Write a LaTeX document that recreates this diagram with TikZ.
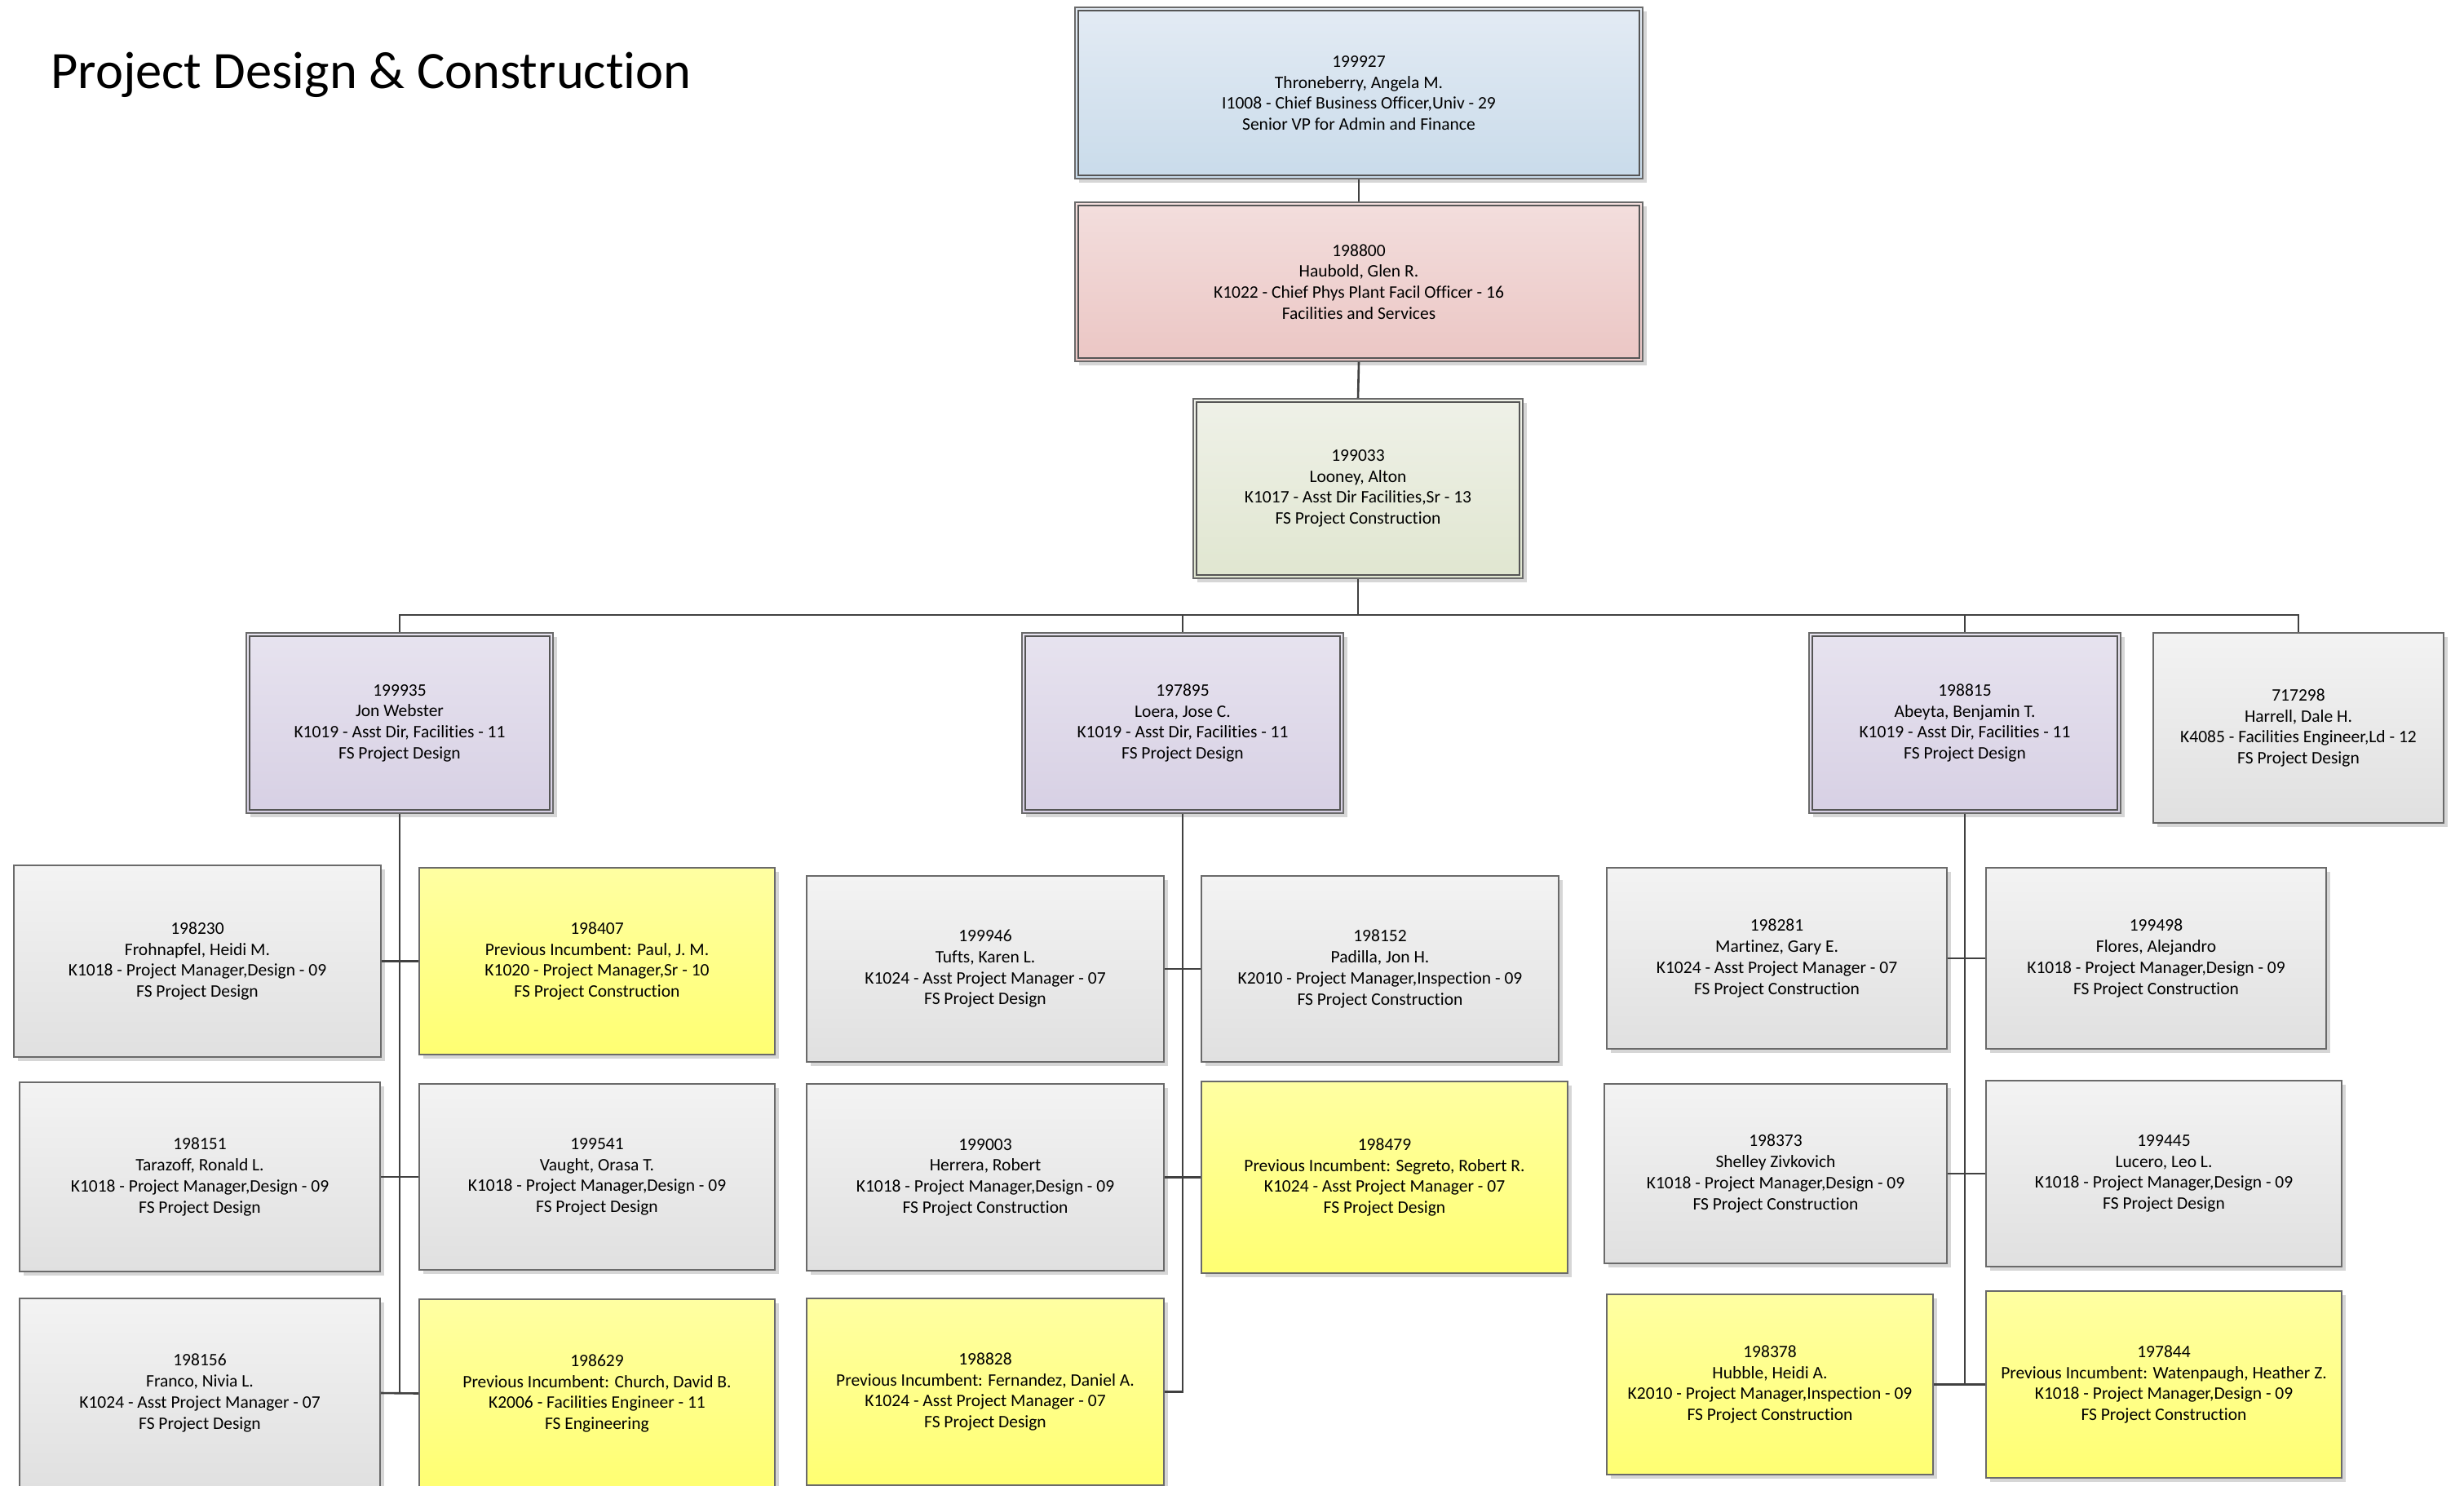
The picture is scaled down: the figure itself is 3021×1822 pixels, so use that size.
\documentclass[tikz,border=0pt]{standalone}
\usepackage{fontspec}
\setmainfont{Carlito}[Ligatures={NoCommon}]
\usetikzlibrary{shadows,calc}
\definecolor{blueT}{HTML}{E3EBF4}
\definecolor{blueB}{HTML}{C9DBEA}
\definecolor{pinkT}{HTML}{F3DEDD}
\definecolor{pinkB}{HTML}{EBC6C4}
\definecolor{greenT}{HTML}{EFF1E8}
\definecolor{greenB}{HTML}{E0E6D0}
\definecolor{lavT}{HTML}{E7E3EF}
\definecolor{lavB}{HTML}{D7D0E4}
\definecolor{grayT}{HTML}{F3F3F3}
\definecolor{grayB}{HTML}{E0E0E0}
\definecolor{yelT}{HTML}{FFFFA2}
\definecolor{yelB}{HTML}{FFFF72}
\definecolor{bordercol}{HTML}{6A6A6A}
\definecolor{linecol}{HTML}{404040}
\tikzset{
  pb/.style={draw=bordercol, line width=1.6pt, align=center, inner sep=0pt,
    font=\fontsize{21.5}{25.7}\selectfont,
    drop shadow={shadow xshift=5pt, shadow yshift=-5pt, fill=black!16, opacity=1}},
  bluebox/.style={pb, top color=blueT, bottom color=blueB},
  pinkbox/.style={pb, top color=pinkT, bottom color=pinkB},
  greenbox/.style={pb, top color=greenT, bottom color=greenB},
  lavbox/.style={pb, top color=lavT, bottom color=lavB},
  graybox/.style={pb, top color=grayT, bottom color=grayB},
  yelbox/.style={pb, top color=yelT, bottom color=yelB},
  link/.style={draw=linecol, line width=2.6pt},
  innerline/.style={draw=bordercol!80!black, line width=1.6pt},
}
\newcommand\pbox[7]{%
  \node[#2, minimum width={(#5-#3)*1pt}, minimum height={(#6-#4)*1pt}] (#1) at ({(#3+#5)/2},{(#4+#6)/2+2}) {#7};}
\newcommand\inbox[1]{%
  \draw[innerline] ([xshift=5pt,yshift=-5pt]#1.north west) rectangle ([xshift=-5pt,yshift=5pt]#1.south east);}
\begin{document}
\begin{tikzpicture}[x=1pt,y=-1pt]
\path[use as bounding box, fill=white] (0,0) rectangle (3021,1822);
\clip (0,0) rectangle (3021,1822);

\node[anchor=base west, font=\fontsize{64.5}{70}\selectfont, inner sep=0pt] (title) at (62,109) {Project Design \& Construction};

% top chain
\pbox{b1}{bluebox}{1318}{7}{2014}{217}{199927\\Throneberry, Angela M.\\I1008 - Chief Business Officer,Univ - 29\\Senior VP for Admin and Finance}
\inbox{b1}
\pbox{b2}{pinkbox}{1318}{246}{2014}{441}{198800\\Haubold, Glen R.\\K1022 - Chief Phys Plant Facil Officer - 16\\Facilities and Services}
\inbox{b2}
\pbox{b3}{greenbox}{1463}{487}{1867}{707}{199033\\Looney, Alton\\K1017 - Asst Dir Facilities,Sr - 13\\FS Project Construction}
\inbox{b3}

% second level
\pbox{p4}{lavbox}{302}{774}{678}{995}{199935\\Jon Webster\\K1019 - Asst Dir, Facilities - 11\\FS Project Design}
\inbox{p4}
\pbox{p5}{lavbox}{1253}{774}{1647}{995}{197895\\Loera, Jose C.\\K1019 - Asst Dir, Facilities - 11\\FS Project Design}
\inbox{p5}
\pbox{p6}{lavbox}{2218}{774}{2600}{995}{198815\\Abeyta, Benjamin T.\\K1019 - Asst Dir, Facilities - 11\\FS Project Design}
\inbox{p6}
\pbox{p7}{graybox}{2640}{774}{2996}{1007}{717298\\Harrell, Dale H.\\K4085 - Facilities Engineer,Ld - 12\\FS Project Design}

% Jon Webster's team
\pbox{c230}{graybox}{17}{1059}{467}{1294}{198230\\Frohnapfel, Heidi M.\\K1018 - Project Manager,Design - 09\\FS Project Design}
\pbox{c407}{yelbox}{514}{1062}{950}{1291}{198407\\Previous Incumbent: Paul, J. M.\\K1020 - Project Manager,Sr - 10\\FS Project Construction}
\pbox{c151}{graybox}{24}{1325}{466}{1557}{198151\\Tarazoff, Ronald L.\\K1018 - Project Manager,Design - 09\\FS Project Design}
\pbox{c541}{graybox}{514}{1327}{950}{1555}{199541\\Vaught, Orasa T.\\K1018 - Project Manager,Design - 09\\FS Project Design}
\pbox{c156}{graybox}{24}{1590}{466}{1822}{198156\\Franco, Nivia L.\\K1024 - Asst Project Manager - 07\\FS Project Design}
\pbox{c629}{yelbox}{514}{1591}{950}{1822}{198629\\Previous Incumbent: Church, David B.\\K2006 - Facilities Engineer - 11\\FS Engineering}

% Loera's team
\pbox{c946}{graybox}{989}{1072}{1427}{1300}{199946\\Tufts, Karen L.\\K1024 - Asst Project Manager - 07\\FS Project Design}
\pbox{c152}{graybox}{1473}{1072}{1911}{1300}{198152\\Padilla, Jon H.\\K2010 - Project Manager,Inspection - 09\\FS Project Construction}
\pbox{c003}{graybox}{989}{1327}{1427}{1556}{199003\\Herrera, Robert\\K1018 - Project Manager,Design - 09\\FS Project Construction}
\pbox{c479}{yelbox}{1473}{1324}{1922}{1559}{198479\\Previous Incumbent: Segreto, Robert R.\\K1024 - Asst Project Manager - 07\\FS Project Design}
\pbox{c828}{yelbox}{989}{1590}{1427}{1819}{198828\\Previous Incumbent: Fernandez, Daniel A.\\K1024 - Asst Project Manager - 07\\FS Project Design}

% Abeyta's team
\pbox{c281}{graybox}{1970}{1062}{2387}{1284}{198281\\Martinez, Gary E.\\K1024 - Asst Project Manager - 07\\FS Project Construction}
\pbox{c498}{graybox}{2435}{1062}{2852}{1284}{199498\\Flores, Alejandro\\K1018 - Project Manager,Design - 09\\FS Project Construction}
\pbox{c373}{graybox}{1967}{1327}{2387}{1547}{198373\\Shelley Zivkovich\\K1018 - Project Manager,Design - 09\\FS Project Construction}
\pbox{c445}{graybox}{2435}{1323}{2871}{1551}{199445\\Lucero, Leo L.\\K1018 - Project Manager,Design - 09\\FS Project Design}
\pbox{c378}{yelbox}{1970}{1585}{2370}{1806}{198378\\Hubble, Heidi A.\\K2010 - Project Manager,Inspection - 09\\FS Project Construction}
\pbox{c844}{yelbox}{2435}{1581}{2871}{1810}{197844\\Previous Incumbent: Watenpaugh, Heather Z.\\K1018 - Project Manager,Design - 09\\FS Project Construction}

% connectors
\coordinate (bus) at (1665,754);
\draw[link] (b1.south) -- (b2.north);
\draw[link] (b2.south) -- (b3.north);
\draw[link] (b3.south) -- (bus);
\draw[link] (p4.north) |- (bus) -| (p7.north);
\draw[link] (p5.north) -- (p5.north |- bus);
\draw[link] (p6.north) -- (p6.north |- bus);

\draw[link] (p4.south) -- (p4.south |- c156.east);
\draw[link] (c230.east) -- (c407.west);
\draw[link] (c151.east) -- (c541.west);
\draw[link] (c156.east) -- (c629.west);

\draw[link] (p5.south) |- (c828.east);
\draw[link] (c946.east) -- (c152.west);
\draw[link] (c003.east) -- (c479.west);

\draw[link] (p6.south) -- (p6.south |- c378.east);
\draw[link] (c281.east) -- (c498.west);
\draw[link] (c373.east) -- (c445.west);
\draw[link] (c378.east) -- (c844.west);
\end{tikzpicture}
\end{document}
